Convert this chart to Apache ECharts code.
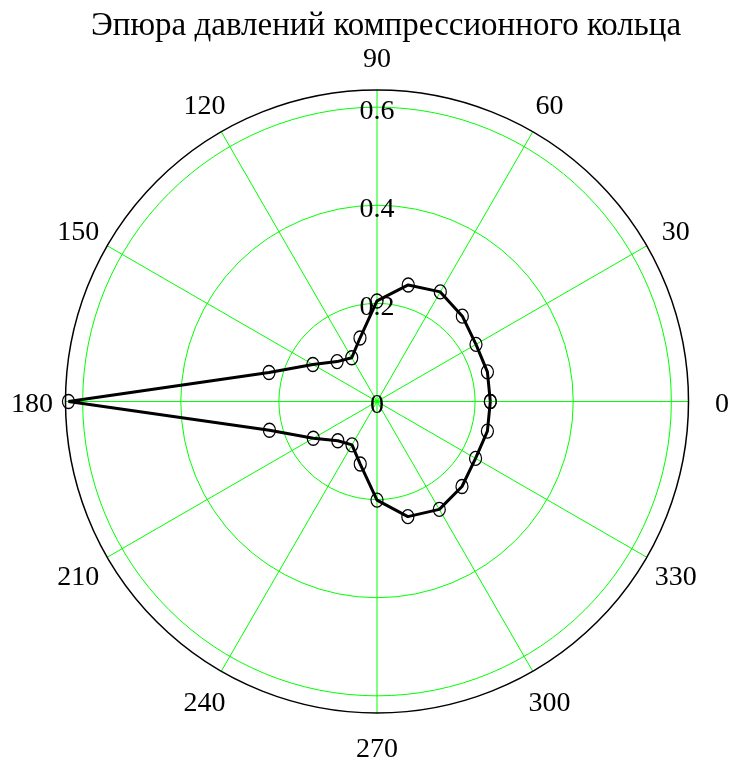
<!DOCTYPE html>
<html>
<head>
<meta charset="utf-8">
<script src="https://cdn.jsdelivr.net/npm/echarts@6/dist/echarts.min.js"></script>
<style>
html,body{margin:0;padding:0;background:#fff;}
#chart{width:733px;height:762px;}
</style>
</head>
<body>
<div id="chart"></div>
<script>
// Angles (degrees) of the measured points
var angles = [0, 15, 30, 45, 60, 75, 90, 105, 120, 135, 150, 165, 180,
              195, 210, 225, 240, 255, 270, 285, 300, 315, 330, 345];
// Pressure values (radius)
var pressures = [0.231, 0.233, 0.233, 0.246, 0.258, 0.246, 0.205, 0.134, 0.103, 0.115, 0.151, 0.228, 0.629,
                 0.227, 0.150, 0.113, 0.102, 0.132, 0.201, 0.243, 0.254, 0.245, 0.232, 0.233];
var angleTicks = [0, 30, 60, 90, 120, 150, 180, 210, 240, 270, 300, 330];
var radiusTicks = [0, 0.2, 0.4, 0.6];
var radiusMax = 0.635;
var titleText = 'Эпюра давлений компрессионного кольца';

var data = angles.map(function (a, i) { return [pressures[i], a]; });
data.push([pressures[0], 360]);

var serifName = '"Liberation Serif", "Times New Roman", serif';
var green = '#00ff00';
var cx = 377, cy = 401.5, R = 311.5;

// Main polar plus one circular axis per radius grid ring
var ringTicks = radiusTicks.filter(function (t) { return t > 0; });
var polars = [{center: [cx, cy], radius: R}];
var angleAxes = [{
  polarIndex: 0,
  type: 'value',
  min: 0,
  max: 360,
  interval: 30,
  startAngle: 0,
  clockwise: false,
  z: 2,
  axisLine: {show: true, lineStyle: {color: '#000', width: 1.5}},
  axisTick: {show: false},
  minorTick: {show: false},
  minorSplitLine: {show: false},
  splitArea: {show: false},
  splitLine: {show: true, lineStyle: {color: green, width: 1}},
  axisLabel: {show: false}
}];
var radiusAxes = [{
  polarIndex: 0,
  type: 'value',
  min: 0,
  max: radiusMax,
  interval: 0.2,
  show: false
}];
ringTicks.forEach(function (t, k) {
  polars.push({center: [cx, cy], radius: R * t / radiusMax});
  angleAxes.push({
    polarIndex: k + 1,
    type: 'value', min: 0, max: 360, startAngle: 0, z: 1,
    axisLine: {show: true, lineStyle: {color: green, width: 1}},
    axisTick: {show: false}, splitLine: {show: false}, axisLabel: {show: false}
  });
  radiusAxes.push({polarIndex: k + 1, type: 'value', min: 0, max: 1, show: false});
});

var chart = echarts.init(document.getElementById('chart'), null, {renderer: 'canvas'});
chart.setOption({
  animation: false,
  backgroundColor: '#ffffff',
  title: {
    text: titleText,
    left: 86,
    top: 5,
    textStyle: {fontFamily: serifName, fontSize: 33, fontWeight: 'normal', color: '#000'}
  },
  polar: polars,
  angleAxis: angleAxes,
  radiusAxis: radiusAxes,
  series: [{
    type: 'line',
    coordinateSystem: 'polar',
    polarIndex: 0,
    data: data,
    symbol: 'circle',
    symbolSize: [12, 14],
    showAllSymbol: true,
    itemStyle: {color: 'rgba(0,0,0,0)', borderColor: '#000', borderWidth: 1.3},
    lineStyle: {color: '#000', width: 3},
    z: 5
  }]
});

function textEl(str, p, dy) {
  return {
    type: 'text',
    x: p[0],
    y: p[1] + dy,
    z: 10,
    silent: true,
    style: {
      text: str,
      font: '28px ' + serifName,
      fill: '#000',
      align: 'center',
      verticalAlign: 'middle',
      textAlign: 'center',
      textVerticalAlign: 'middle'
    }
  };
}
// Angle tick labels, centred on a circle just outside the plot
var labelRadius = radiusMax * 345 / R;
var labelEls = angleTicks.map(function (a) {
  return textEl(String(a), chart.convertToPixel({seriesIndex: 0}, [labelRadius, a]), 3.5);
});
// Radius tick labels along the 90° line
radiusTicks.forEach(function (t) {
  labelEls.push(textEl(String(t), chart.convertToPixel({seriesIndex: 0}, [t, 90]), 4));
});
chart.setOption({graphic: {elements: labelEls}});
</script>
</body>
</html>
